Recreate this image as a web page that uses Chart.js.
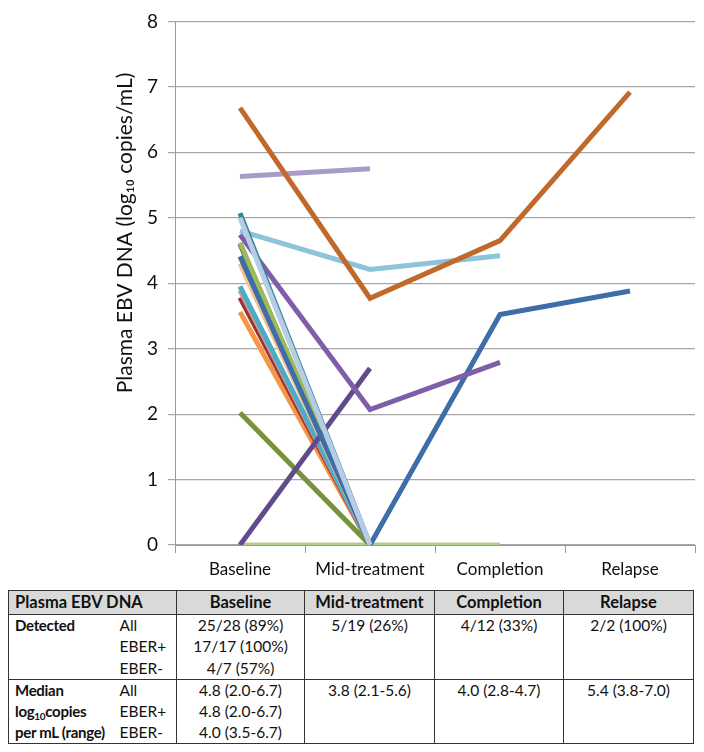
<!DOCTYPE html>
<html>
<head>
<meta charset="utf-8">
<script src="https://cdn.jsdelivr.net/npm/chart.js@4.4.0/dist/chart.umd.min.js"></script>
<style>
  body { margin: 0; background: #fff; font-family: Lato, "Open Sans", sans-serif; }
  #wrap { position: relative; width: 704px; height: 752px; }
  #chartBox { position: absolute; left: 0; top: 0; width: 704px; height: 585px; }
  #stats { position: absolute; left: 8px; top: 590px; width: 685px; table-layout: fixed; border-collapse: collapse; font-size: 15.5px; color: #111; }
  #stats td, #stats th { padding: 0 6px; height: 21.5px; line-height: 21px; white-space: nowrap; overflow: visible; box-sizing: border-box; }
  #stats th { background: #d9d9d9; height: 24px; font-weight: bold; border: 1.5px solid #333; font-size: 16.5px; }
  #stats .grp td { border-bottom: 1.5px solid #333; }
  #stats td.c { text-align: center; border-left: 1.5px solid #333; border-right: 1.5px solid #333; }
  #stats td.l { font-weight: bold; border-left: 1.5px solid #333; letter-spacing: -0.3px; font-size: 15px; }
  #stats sub { font-size: 10px; line-height: 0; vertical-align: -3px; }
</style>
</head>
<body>
<div id="wrap">
  <div id="chartBox"><canvas id="ebvChart"></canvas></div>
  <table id="stats"></table>
</div>
<script>
// time points
const timePoints = ['Baseline', 'Mid-treatment', 'Completion', 'Relapse'];
const yTicks = [0, 1, 2, 3, 4, 5, 6, 7, 8];

// patient series, log10 copies/mL (null = no sample)
const pt01 = [6.68, 3.77, 4.65, 6.92];
const pt02 = [5.63, 5.75, null, null];
const pt03 = [4.80, 4.21, 4.42, null];
const pt04 = [4.41, 0, 3.52, 3.88];
const pt05 = [4.74, 2.07, 2.79, null];
const pt06 = [0, 2.70, null, null];
const pt07 = [2.02, 0, null, null];
const pt08 = [0, 0, 0, null];
const pt09 = [5.07, 0, null, null];
const pt10 = [5.00, 0, null, null];
const pt11 = [4.60, 0, null, null];
const pt12 = [4.62, 0, null, null];
const pt13 = [4.30, 0, null, null];
const pt14 = [3.95, 0, null, null];
const pt15 = [3.89, 0, null, null];
const pt16 = [3.78, 0, null, null];
const pt17 = [3.56, 0, null, null];

// table rows
const tableHead = ['Plasma EBV DNA', 'Baseline', 'Mid-treatment', 'Completion', 'Relapse'];
const groupLabels = [['Detected', '', ''], ['Median', 'log<sub>10</sub>copies', 'per mL (range)']];
const subLabels = ['All', 'EBER+', 'EBER-'];
const detectedRows = [
  ['25/28 (89%)', '5/19 (26%)', '4/12 (33%)', '2/2 (100%)'],
  ['17/17 (100%)', '', '', ''],
  ['4/7 (57%)', '', '', '']
];
const medianRows = [
  ['4.8 (2.0-6.7)', '3.8 (2.1-5.6)', '4.0 (2.8-4.7)', '5.4 (3.8-7.0)'],
  ['4.8 (2.0-6.7)', '', '', ''],
  ['4.0 (3.5-6.7)', '', '', '']
];
const colWidths = [107, 61, 128, 130, 129, 130];

const series = [
  { data: pt10, color: '#b8cce4' },
  { data: pt09, color: '#31859c' },
  { data: pt01, color: '#c0692b' },
  { data: pt02, color: '#a99bc9' },
  { data: pt03, color: '#8cc4d9' },
  { data: pt05, color: '#7e5ea8' },
  { data: pt04, color: '#3d6ea9' },
  { data: pt06, color: '#604a8b' },
  { data: pt07, color: '#76923c' },
  { data: pt12, color: '#9bbb59' },
  { data: pt11, color: '#3b4a85' },
  { data: pt13, color: '#fabf8f' },
  { data: pt14, color: '#4bacc6' },
  { data: pt15, color: '#d99694' },
  { data: pt16, color: '#963634' },
  { data: pt17, color: '#f79646' },
  { data: pt08, color: '#b3d08a' }
];

const titlePlugin = {
  id: 'sideTitle',
  afterDraw(chart) {
    const ctx = chart.ctx;
    ctx.save();
    ctx.translate(125, 233);
    ctx.rotate(-Math.PI / 2);
    ctx.font = '21px Lato, "Open Sans", sans-serif';
    ctx.fillStyle = '#111';
    ctx.textAlign = 'center';
    ctx.textBaseline = 'middle';
    ctx.fillText('Plasma EBV DNA (log\u2081\u2080 copies/mL)', 0, 0);
    ctx.restore();
  }
};

new Chart(document.getElementById('ebvChart'), {
  type: 'line',
  data: {
    labels: timePoints,
    datasets: series.map(s => ({
      data: s.data,
      borderColor: s.color,
      backgroundColor: s.color,
      borderWidth: 5,
      pointRadius: 0,
      tension: 0,
      spanGaps: false
    }))
  },
  options: {
    responsive: true,
    maintainAspectRatio: false,
    animation: false,
    layout: { padding: { top: 15, right: 9, left: 0, bottom: 0 } },
    plugins: { legend: { display: false }, tooltip: { enabled: false } },
    scales: {
      x: {
        offset: true,
        afterFit: s => { s.height = 40; },
        grid: { offset: true, drawOnChartArea: false, drawTicks: true, tickLength: 8, color: '#9a9a9a' },
        border: { color: '#9a9a9a' },
        ticks: { color: '#111', font: { family: 'Lato', size: 17 }, padding: 6 }
      },
      y: {
        min: 0,
        max: 8,
        afterFit: s => { s.width = 175; },
        afterBuildTicks: s => { s.ticks = yTicks.map(v => ({ value: v })); },
        grid: { color: '#a6a6a6', tickLength: 7, lineWidth: 1.2 },
        border: { color: '#9a9a9a' },
        ticks: { color: '#111', font: { family: 'Lato', size: 19 }, padding: 10 }
      }
    }
  },
  plugins: [titlePlugin]
});

// stats table
let html = '<colgroup>' + colWidths.map(w => '<col style="width:' + w + 'px">').join('') + '</colgroup>';
html += '<tr><th colspan="2" style="text-align:left">' + tableHead[0] + '</th>';
for (let i = 1; i < tableHead.length; i++) html += '<th>' + tableHead[i] + '</th>';
html += '</tr>';
[detectedRows, medianRows].forEach((rows, g) => {
  rows.forEach((row, r) => {
    html += '<tr' + (r === 2 ? ' class="grp"' : '') + '>';
    html += '<td class="l">' + groupLabels[g][r] + '</td>';
    html += '<td style="padding-left:4px">' + subLabels[r] + '</td>';
    row.forEach(v => { html += '<td class="c">' + v + '</td>'; });
    html += '</tr>';
  });
});
document.getElementById('stats').innerHTML = html;
</script>
</body>
</html>
